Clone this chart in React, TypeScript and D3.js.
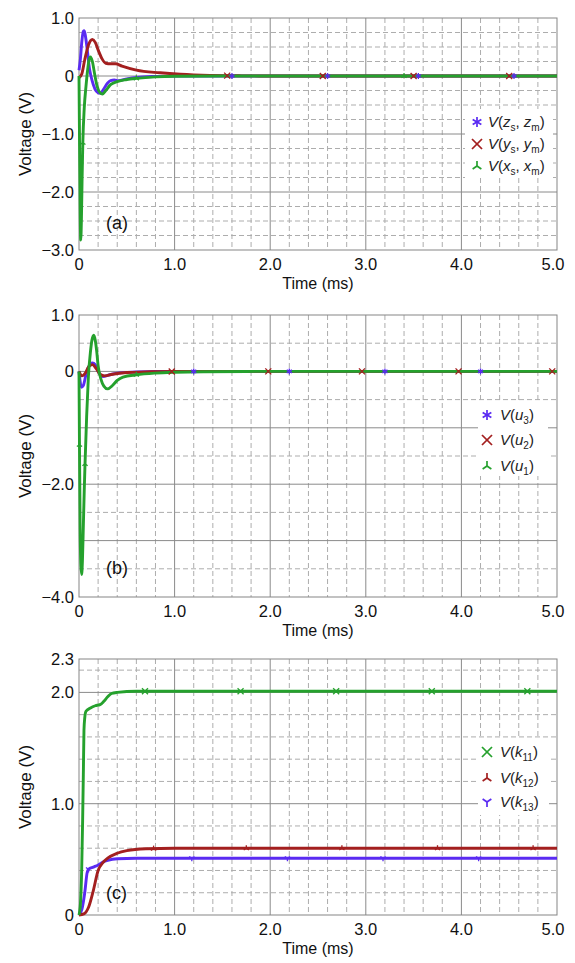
import * as d3 from "d3";
import React from "react";

const W = 575;
const H = 963;
const X0 = 79;
const X1 = 557;
const FONT = "'Liberation Sans', Arial, sans-serif";

const BLUE = "#5a2bf2";
const RED = "#a31f1f";
const GREEN = "#25a12d";

// time axis (ms)
const timeTicks = [0, 1, 2, 3, 4, 5];

// panel (a): V(zs,zm), V(ys,ym), V(xs,xm)
const aBlue = [[0, 0.1], [0.015, 0.3], [0.03, 0.6], [0.045, 0.77], [0.055, 0.78], [0.07, 0.66], [0.09, 0.4], [0.11, 0.12], [0.125, 0], [0.15, -0.15], [0.18, -0.26], [0.22, -0.3], [0.26, -0.22], [0.3, -0.12], [0.33, -0.08], [0.37, -0.07], [0.41, -0.08], [0.5, -0.05], [0.6, -0.025], [0.8, -0.008], [1.0, -0.002], [1.5, 0], [5, 0]];
const aRed = [[0, -0.03], [0.03, 0.04], [0.06, 0.28], [0.1, 0.54], [0.14, 0.63], [0.17, 0.58], [0.2, 0.45], [0.24, 0.3], [0.28, 0.22], [0.33, 0.21], [0.38, 0.21], [0.45, 0.17], [0.6, 0.1], [0.85, 0.055], [1.06, 0.03], [1.37, 0.01], [1.7, 0.003], [2.2, 0], [5, 0]];
const aGreen = [[0, 0], [0.006, -1.2], [0.013, -2.4], [0.018, -2.83], [0.025, -2.5], [0.032, -1.8], [0.04, -1.15], [0.055, -0.55], [0.073, -0.18], [0.09, 0.1], [0.105, 0.28], [0.12, 0.33], [0.14, 0.25], [0.165, 0.02], [0.19, -0.18], [0.22, -0.29], [0.245, -0.31], [0.28, -0.25], [0.33, -0.15], [0.39, -0.1], [0.5, -0.06], [0.6, -0.04], [0.8, -0.015], [1.0, -0.005], [1.5, 0], [5, 0]];
const aTicks = [1, 0, -1, -2, -3];

// panel (b): V(u3), V(u2), V(u1)
const bBlue = [[0, 0], [0.01, -0.15], [0.025, -0.28], [0.045, -0.25], [0.07, -0.08], [0.1, 0.08], [0.14, 0.15], [0.17, 0.12], [0.2, 0], [0.25, -0.09], [0.3, -0.07], [0.4, -0.03], [0.6, -0.01], [0.8, 0], [5, 0]];
const bRed = [[0, 0], [0.03, -0.08], [0.07, -0.02], [0.1, 0.08], [0.14, 0.12], [0.18, 0.05], [0.22, -0.05], [0.27, -0.08], [0.35, -0.05], [0.5, -0.02], [0.7, -0.01], [1.0, 0], [5, 0]];
const bGreen = [[0, 0], [0.005, -1.3], [0.012, -2.8], [0.02, -3.45], [0.028, -3.6], [0.036, -3.35], [0.046, -2.7], [0.055, -2.1], [0.063, -1.64], [0.08, -0.8], [0.098, -0.1], [0.12, 0.35], [0.135, 0.55], [0.155, 0.64], [0.17, 0.55], [0.185, 0.36], [0.2, 0.1], [0.23, -0.14], [0.26, -0.26], [0.3, -0.31], [0.35, -0.25], [0.4, -0.16], [0.46, -0.1], [0.6, -0.06], [0.8, -0.03], [1.0, -0.015], [1.3, -0.005], [2, 0], [5, 0]];
const bTicks = [1, 0, -2, -4];

// panel (c): V(k11), V(k12), V(k13)
const cGreen = [[0, 0], [0.015, 0.1], [0.028, 0.4], [0.038, 0.85], [0.046, 1.3], [0.052, 1.66], [0.06, 1.77], [0.073, 1.83], [0.12, 1.86], [0.17, 1.88], [0.22, 1.89], [0.26, 1.92], [0.3, 1.96], [0.34, 1.99], [0.4, 2.0], [0.6, 2.01], [5, 2.01]];
const cRed = [[0, 0], [0.05, 0.01], [0.1, 0.07], [0.15, 0.22], [0.2, 0.4], [0.25, 0.47], [0.3, 0.51], [0.4, 0.555], [0.5, 0.578], [0.7, 0.595], [1.0, 0.6], [5, 0.6]];
const cBlue = [[0, 0], [0.03, 0.05], [0.06, 0.2], [0.085, 0.38], [0.1, 0.41], [0.15, 0.43], [0.2, 0.45], [0.25, 0.475], [0.3, 0.49], [0.4, 0.505], [0.6, 0.51], [5, 0.51]];
const cTicks = [2.3, 2, 1, 0];

// marker times along the traces (ms)
const aMarks = { blue: [1.6, 2.6, 3.55, 4.55], red: [1.55, 2.55, 3.5, 4.5], green: [0.04, 0.6, 3.4] };
const bMarks = { blue: [1.2, 2.2, 3.2, 4.2], red: [0.97, 1.98, 2.96, 3.97, 4.95], green: [0.005, 0.063, 0.6] };
const cMarks = { green: [0.69, 1.69, 2.69, 3.69, 4.69], red: [0.78, 1.75, 2.75, 3.75, 4.75], blue: [0.1, 1.18, 2.18, 3.18, 4.18] };

const sub = (name, s) => [["V", "i"], ["(", ""], [name, "i"], [s, "s"], [")", ""]];
const sub2 = (name, s1, s2) => [["V", "i"], ["(", ""], [name, "i"], [s1, "s"], [", ", ""], [name, "i"], [s2, "s"], [")", ""]];

const panels = [
  {
    label: "(a)", labelY: 229, domain: [-3, 1], top: 18, bottom: 250, minor: 0.25, ticks: aTicks,
    series: [
      { data: aBlue, color: BLUE, marker: "star", marks: aMarks.blue, text: sub2("z", "s", "m") },
      { data: aRed, color: RED, marker: "x", marks: aMarks.red, text: sub2("y", "s", "m") },
      { data: aGreen, color: GREEN, marker: "triUp", marks: aMarks.green, text: sub2("x", "s", "m") },
    ],
    legend: { x: 465, y: 109, w: 88, h: 69, mx: 477, tx: 488, rows: [122, 144, 166] },
  },
  {
    label: "(b)", labelY: 574, domain: [-4, 1], top: 315, bottom: 597, minor: 0.5, ticks: bTicks,
    series: [
      { data: bBlue, color: BLUE, marker: "star", marks: bMarks.blue, text: sub("u", "3") },
      { data: bRed, color: RED, marker: "x", marks: bMarks.red, text: sub("u", "2") },
      { data: bGreen, color: GREEN, marker: "triUp", marks: bMarks.green, text: sub("u", "1") },
    ],
    legend: { x: 478, y: 403, w: 70, h: 73, mx: 487, tx: 500, rows: [415, 440, 466] },
  },
  {
    label: "(c)", labelY: 899, domain: [0, 2.3], top: 659, bottom: 915, minor: 0.2, ticks: cTicks,
    series: [
      { data: cBlue, color: BLUE, marker: "triDown", marks: cMarks.blue, text: sub("k", "13") },
      { data: cRed, color: RED, marker: "triUp", marks: cMarks.red, text: sub("k", "12") },
      { data: cGreen, color: GREEN, marker: "x", marks: cMarks.green, text: sub("k", "11") },
    ],
    legendOrder: [2, 1, 0],
    legend: { x: 478, y: 738, w: 71, h: 77, mx: 487, tx: 500, rows: [752, 778, 802] },
  },
];

function drawMarker(g, type, cx, cy, r, color, sw) {
  let segs = [];
  if (type === "x") {
    segs = [[-r, -r, r, r], [-r, r, r, -r]];
  } else if (type === "star") {
    segs = [[0, -r, 0, r], [-r * 0.87, -r * 0.5, r * 0.87, r * 0.5], [-r * 0.87, r * 0.5, r * 0.87, -r * 0.5]];
  } else if (type === "triUp") {
    segs = [[0, 0, 0, -r], [0, 0, -r * 0.87, r * 0.6], [0, 0, r * 0.87, r * 0.6]];
  } else {
    segs = [[0, 0, 0, r], [0, 0, -r * 0.87, -r * 0.6], [0, 0, r * 0.87, -r * 0.6]];
  }
  segs.forEach(s => {
    g.append("line")
      .attr("x1", cx + s[0]).attr("y1", cy + s[1])
      .attr("x2", cx + s[2]).attr("y2", cy + s[3])
      .attr("stroke", color).attr("stroke-width", sw);
  });
}

const isInt = v => Math.abs(v - Math.round(v)) < 1e-6;

const App = () => {
  const ref = React.useRef(null);

  React.useEffect(() => {
    const svg = d3.select(ref.current);
    svg.selectAll("*").remove();
    const x = d3.scaleLinear().domain([0, 5]).range([X0, X1]);
    const fmt = v => (v === 0 ? "0" : d3.format(".1f")(v));

    panels.forEach(p => {
      const y = d3.scaleLinear().domain(p.domain).range([p.bottom, p.top]);
      const g = svg.append("g");

      // minor grid
      const vMinor = d3.range(1, 25).map(i => i * 0.2).filter(v => !isInt(v));
      g.selectAll(".vminor").data(vMinor).enter().append("line")
        .attr("x1", d => x(d)).attr("x2", d => x(d))
        .attr("y1", p.top).attr("y2", p.bottom)
        .attr("stroke", "#adadad").attr("stroke-dasharray", "5,3");
      const k0 = Math.ceil(p.domain[0] / p.minor - 1e-6);
      const k1 = Math.floor(p.domain[1] / p.minor + 1e-6);
      const hMinor = d3.range(k0, k1 + 1).map(k => k * p.minor)
        .filter(v => !isInt(v) && v > p.domain[0] + 1e-6 && v < p.domain[1] - 1e-6);
      g.selectAll(".hminor").data(hMinor).enter().append("line")
        .attr("y1", d => y(d)).attr("y2", d => y(d))
        .attr("x1", X0).attr("x2", X1)
        .attr("stroke", "#adadad").attr("stroke-dasharray", "5,3");

      // major grid
      g.selectAll(".vmajor").data([1, 2, 3, 4]).enter().append("line")
        .attr("x1", d => x(d)).attr("x2", d => x(d))
        .attr("y1", p.top).attr("y2", p.bottom)
        .attr("stroke", "#8a8a8a");
      const hMajor = d3.range(Math.ceil(p.domain[0]), Math.floor(p.domain[1]) + 1)
        .filter(v => v > p.domain[0] && v < p.domain[1]);
      g.selectAll(".hmajor").data(hMajor).enter().append("line")
        .attr("y1", d => y(d)).attr("y2", d => y(d))
        .attr("x1", X0).attr("x2", X1)
        .attr("stroke", "#8a8a8a");

      // frame
      g.append("rect")
        .attr("x", X0).attr("y", p.top)
        .attr("width", X1 - X0).attr("height", p.bottom - p.top)
        .attr("fill", "none").attr("stroke", "#858585");

      // legend box
      const L = p.legend;
      g.append("rect")
        .attr("x", L.x).attr("y", L.y).attr("width", L.w).attr("height", L.h)
        .attr("fill", "#fff");

      // traces
      const line = d3.line()
        .x(d => x(d[0]))
        .y(d => y(d[1]))
        .curve(d3.curveMonotoneX);
      p.series.forEach(s => {
        g.append("path")
          .attr("d", line(s.data))
          .attr("fill", "none")
          .attr("stroke", s.color)
          .attr("stroke-width", 2.9)
          .attr("stroke-linejoin", "round");
      });
      // trace markers on top of all lines
      p.series.forEach(s => {
        const interp = d3.scaleLinear().domain(s.data.map(d => d[0])).range(s.data.map(d => d[1]));
        s.marks.forEach(t => drawMarker(g, s.marker, x(t), y(interp(t)), 3, s.color, 1.3));
      });

      // legend entries
      const order = p.legendOrder || [0, 1, 2];
      order.forEach((si, row) => {
        const s = p.series[si];
        const ry = L.rows[row];
        drawMarker(g, s.marker, L.mx, ry, 5, s.color, 1.7);
        const txt = g.append("text")
          .attr("x", L.tx).attr("y", ry + 5)
          .attr("font-family", FONT).attr("font-size", 15).attr("fill", "#222");
        let shifted = false;
        s.text.forEach(([t, kind]) => {
          const ts = txt.append("tspan").text(t);
          if (kind === "i") ts.attr("font-style", "italic");
          if (kind === "s") {
            ts.attr("font-size", 10);
            if (!shifted) { ts.attr("dy", 3.5); shifted = true; }
          } else if (shifted) {
            ts.attr("dy", -3.5);
            shifted = false;
          }
        });
      });

      // y tick labels
      g.selectAll(".ylab").data(p.ticks).enter().append("text")
        .attr("x", 74).attr("y", d => y(d) + 6)
        .attr("text-anchor", "end")
        .attr("font-family", FONT).attr("font-size", 16.5).attr("fill", "#111")
        .text(d => fmt(d));

      // x tick labels
      g.selectAll(".xlab").data(timeTicks).enter().append("text")
        .attr("x", d => x(d) - (d === 5 ? 4 : 0)).attr("y", p.bottom + 20)
        .attr("text-anchor", "middle")
        .attr("font-family", FONT).attr("font-size", 16.5).attr("fill", "#111")
        .text(d => fmt(d));

      // axis titles
      g.append("text")
        .attr("x", (X0 + X1) / 2).attr("y", p.bottom + 39)
        .attr("text-anchor", "middle")
        .attr("font-family", FONT).attr("font-size", 16).attr("fill", "#111")
        .text("Time (ms)");
      g.append("text")
        .attr("transform", "translate(31," + (p.top + p.bottom) / 2 + ") rotate(-90)")
        .attr("text-anchor", "middle")
        .attr("font-family", FONT).attr("font-size", 17).attr("fill", "#111")
        .text("Voltage (V)");

      // panel label
      g.append("text")
        .attr("x", 106).attr("y", p.labelY)
        .attr("font-family", FONT).attr("font-size", 18).attr("fill", "#111")
        .text(p.label);
    });
  }, []);

  return (
    <svg
      ref={ref}
      width={W}
      height={H}
      style={{ position: "absolute", left: 0, top: 0, background: "#fff" }}
    />
  );
};

export default App;
